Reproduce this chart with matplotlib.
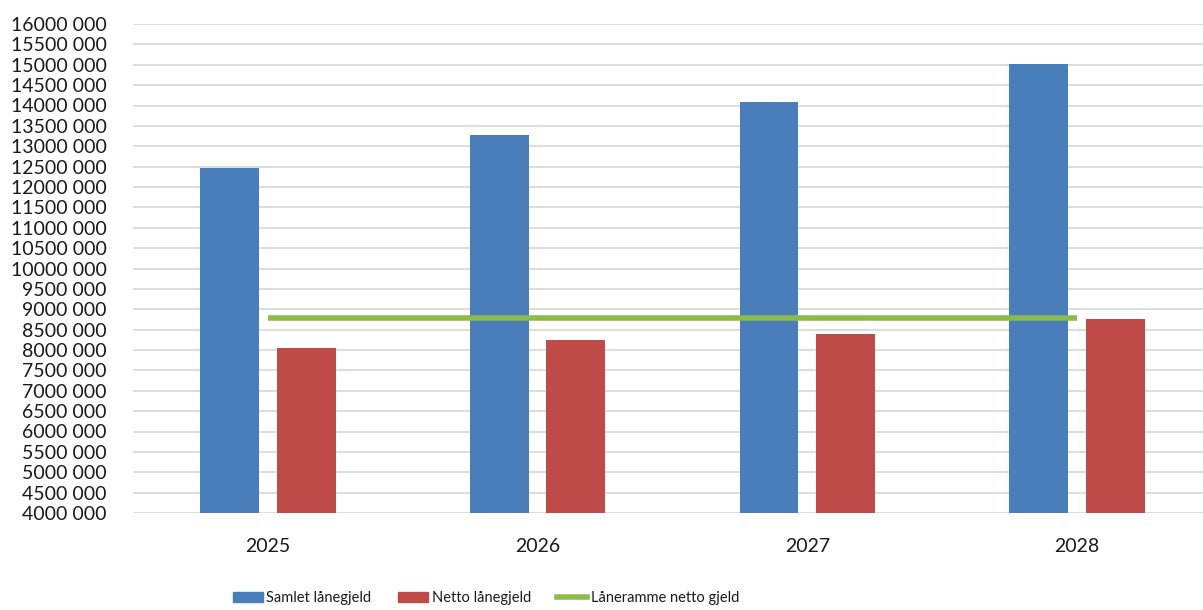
import matplotlib
matplotlib.use("Agg")
import matplotlib.pyplot as plt
from matplotlib.ticker import FuncFormatter, MultipleLocator
from matplotlib.patches import Patch
from matplotlib.lines import Line2D
import numpy as np

years = ["2025", "2026", "2027", "2028"]
samlet = [12460000, 13280000, 14095000, 15020000]
netto = [8040000, 8235000, 8390000, 8770000]
laneramme = [8790000, 8790000, 8790000, 8790000]
series_names = ["Samlet lånegjeld", "Netto lånegjeld", "Låneramme netto gjeld"]

c_blue = "#4a7ebb"
c_red = "#be4b48"
c_green = "#8dbb4a"

plt.rcParams["font.family"] = ["Lato", "DejaVu Sans"]

fig = plt.figure(figsize=(12.03, 6.10), dpi=100)
ax = fig.add_axes([133 / 1203, 97 / 610, 1 - 133 / 1203, (513 - 24) / 610])

x = np.arange(len(years))
w = 0.218
off = 0.142
ax.bar(x - off, samlet, width=w, color=c_blue, zorder=2)
ax.bar(x + off, netto, width=w, color=c_red, zorder=2)
ax.plot(x, laneramme, color=c_green, lw=4, zorder=3, solid_capstyle="butt")

ax.set_ylim(4000000, 16000000)
ax.set_xlim(-0.5, 3.467)
ax.yaxis.set_major_locator(MultipleLocator(500000))
ax.yaxis.set_major_formatter(FuncFormatter(lambda v, p: f"{int(round(v)) // 1000} {int(round(v)) % 1000:03d}"))
ax.set_xticks(x)
ax.set_xticklabels(years)
ax.grid(axis="y", color="#dcd6d6", lw=1.2, zorder=0)
ax.set_axisbelow(True)
for s in ax.spines.values():
    s.set_visible(False)
ax.tick_params(axis="both", length=0, labelsize=14, colors="#1a1a1a")
ax.tick_params(axis="y", pad=19)
ax.tick_params(axis="x", pad=18)

handles = [Patch(color=c_blue), Patch(color=c_red), Line2D([0], [0], color=c_green, lw=4)]
fig.legend(handles, series_names, loc="center", bbox_to_anchor=(486 / 1203, 12 / 610),
           ncol=3, frameon=False, fontsize=10.5, handlelength=2.05, handleheight=0.7,
           handletextpad=0.27, columnspacing=1.8, labelcolor="#1a1a1a")

fig.savefig("out.png", dpi=100, facecolor="white")
